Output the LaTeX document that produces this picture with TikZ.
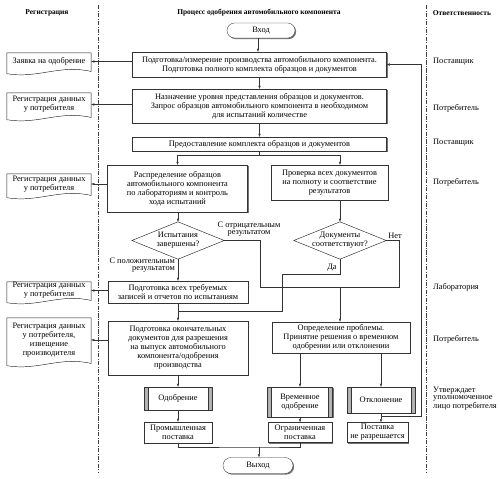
\documentclass[tikz,border=0pt]{standalone}
\usepackage{fontspec}
\setmainfont{Liberation Serif}
\usetikzlibrary{arrows.meta,shapes.misc,shadows,backgrounds}

% контур документа с волнистым низом
\newcommand\docpath[1]{(#1.north west) -- (#1.north east) -- ([yshift=-1.5pt]#1.south east)
  .. controls ([xshift=-35pt,yshift=7pt]#1.south east) and ([xshift=35pt,yshift=-10pt]#1.south west)
  .. ([yshift=-4pt]#1.south west) -- cycle}

\tikzset{
  sz/.style 2 args={minimum width=#1*0.4mm, minimum height=#2*0.4mm},
  box/.style={draw=black!80, fill=white, inner sep=0pt, align=center,
    drop shadow={shadow xshift=1.3pt, shadow yshift=-1.3pt, fill=black!55, opacity=1}},
  term/.style={box, rounded rectangle},
  bars/.style={box, path picture={
    \fill[black!30] (path picture bounding box.north west) rectangle ([xshift=4.5pt]path picture bounding box.south west);
    \fill[black!30] (path picture bounding box.north east) rectangle ([xshift=-4.5pt]path picture bounding box.south east);
    \draw[black!80] ([xshift=4.5pt]path picture bounding box.north west) -- ([xshift=4.5pt]path picture bounding box.south west);
    \draw[black!80] ([xshift=-4.5pt]path picture bounding box.north east) -- ([xshift=-4.5pt]path picture bounding box.south east);}},
  doc/.style={inner sep=0pt, align=center},
  dia/.style={inner sep=0pt, align=center},
  lbl/.style={inner sep=0pt, align=center, font=\fontsize{9.5}{8.6}\selectfont},
  head/.style={inner sep=0pt, font=\fontsize{8.5}{10}\selectfont\bfseries},
  resp/.style={inner sep=0pt, anchor=west, align=left},
  line/.style={black!80, line width=0.5pt},
  arr/.style={line, -{Triangle[length=3.5pt,width=2.4pt]}},
  col/.style={black!75, line width=0.5pt, dash pattern=on 5pt off 1.5pt on 1pt off 1.5pt},
}

\begin{document}
\begin{tikzpicture}[x=0.4mm, y=-0.4mm, font=\fontsize{9.5}{10.3}\selectfont]
  \useasboundingbox (0,0) rectangle (500,478);

  % колонки
  \draw[col] (98,5) -- (98,472);
  \draw[col] (426,5) -- (426,472);
  \node[head] (h1) at (47,13) {Регистрация};
  \node[head] (h2) at (259,13) {Процесс одобрения автомобильного компонента};
  \node[head] (h3) at (462,13) {Ответственность};

  % основной процесс
  \node[term, sz={68}{15}] (vhod) at (261,30.5) {Вход};
  \node[box, sz={254}{25}] (b1) at (259.5,64.5) {Подготовка/измерение производства автомобильного компонента.\\Подготовка полного комплекта образцов и документов};
  \node[box, sz={254}{34}] (b2) at (259.5,106) {Назначение уровня представления образцов и документов.\\Запрос образцов автомобильного компонента в необходимом\\для испытаний количестве};
  \node[box, sz={254}{14}] (b3) at (259.5,144) {Предоставление комплекта образцов и документов};
  \node[box, sz={140}{47}] (b4) at (177.5,188.5) {Распределение образцов\\автомобильного компонента\\по лабораториям и контроль\\хода испытаний};
  \node[box, sz={117}{35}] (b5) at (329.5,182.5) {Проверка всех документов\\на полноту и соответствие\\результатов};
  \node[dia, sz={92}{37}] (d1) at (178,240.5) {Испытания\\завершены?};
  \node[dia, sz={92}{37}] (d2) at (340,240.5) {Документы\\соответствуют?};
  \node[box, sz={140}{22}] (b6) at (178,292) {Подготовка всех требуемых\\записей и отчетов по испытаниям};
  \node[box, sz={140}{54}] (b7) at (178,348) {Подготовка окончательных\\документов для разрешения\\на выпуск автомобильного\\компонента/одобрения\\производства};
  \node[box, sz={138}{31}] (b8) at (341,337.5) {Определение проблемы.\\Принятие решения о временном\\одобрении или отклонении};
  \node[bars, sz={68}{23}] (odob) at (178,398.5) {Одобрение};
  \node[bars, sz={65}{30}] (vrem) at (300,402) {Временное\\одобрение};
  \node[bars, sz={68}{26}] (otkl) at (381,400) {Отклонение};
  \node[box, sz={68}{21}] (prom) at (178,432.5) {Промышленная\\поставка};
  \node[box, sz={64}{20}] (ogr) at (300,432.5) {Ограниченная\\поставка};
  \node[box, sz={61}{20}] (nerazr) at (377.5,432.5) {Поставка\\не разрешается};
  \node[term, sz={70}{16}] (vyhod) at (258,465.5) {Выход};

  % регистрация
  \node[doc, sz={84}{17}] (r1) at (49,61.5) {Заявка на одобрение};
  \node[doc, sz={84}{23}] (r2) at (49,104.5) {Регистрация данных\\у потребителя};
  \node[doc, sz={84}{20}] (r3) at (49,184) {Регистрация данных\\у потребителя};
  \node[doc, sz={84}{17}] (r4) at (49,290.5) {Регистрация данных\\у потребителя};
  \node[doc, sz={84}{44}] (r5) at (49,340) {Регистрация данных\\у потребителя,\\извещение\\производителя};

  % ответственность
  \node[resp] (o1) at (433,62) {Поставщик};
  \node[resp] (o2) at (433,108) {Потребитель};
  \node[resp] (o3) at (433,143) {Поставщик};
  \node[resp] (o4) at (433,182) {Потребитель};
  \node[resp] (o5) at (433,287) {Лаборатория};
  \node[resp] (o6) at (433,339) {Потребитель};
  \node[resp, lbl, align=left] (o7) at (433,398.5) {Утверждает\\уполномоченное\\лицо потребителя};

  % подписи ветвей
  \node[lbl, anchor=north east, align=right] (lpos) at (175,257.5) {С положительным\\результатом};
  \node[lbl] (lneg) at (249,229) {С отрицательным\\результатом};
  \node[lbl] (lda) at (332,268) {Да};
  \node[lbl] (lnet) at (395,236) {Нет};

  % фигуры документов и ромбов
  \begin{scope}[on background layer]
    \foreach \n in {r1,r2,r3,r4,r5}{
      \fill[black!55, shift={(1.3pt,-1.3pt)}] \docpath{\n};
      \draw[line, fill=white] \docpath{\n};
    }
    \foreach \n in {d1,d2}{
      \fill[black!55, shift={(1.3pt,-1.3pt)}] (\n.north) -- (\n.east) -- (\n.south) -- (\n.west) -- cycle;
      \draw[line, fill=white] (\n.north) -- (\n.east) -- (\n.south) -- (\n.west) -- cycle;
    }
  \end{scope}

  % связи
  \draw[arr] (vhod.south -| b1.north) ++(-1.5,0) coordinate (t0) -- (t0 |- b1.north);
  \draw[arr] (b1) -- (b2);
  \draw[arr] (b2) -- (b3);
  \draw[line] (b3.south) -- ++(0,4) coordinate (s3);
  \draw[arr] (s3) -| (b4.north);
  \draw[arr] (s3) -| (d2.north |- b5.north);
  \draw[arr] (b4.south -| d1.north) -- (d1.north);
  \draw[arr] (d2.north |- b5.south) -- (d2.north);
  \draw[arr] (d1) -- (b6);
  \draw[arr] (b6) -- (b7);
  \coordinate (j7) at (178,311);
  \coordinate (mrg) at (340,287);
  \draw[line] (d1.east) -- ++(36,0) |- (mrg);
  \draw[line] (d2.east) -- ++(13,0) |- (mrg);
  \draw[arr] (mrg) -- (mrg |- b8.north);
  \draw[line] (d2.south) |- (282,274) |- (j7);
  \draw[arr] (b7) -- (odob);
  \draw[arr] (odob) -- (prom);
  \draw[arr] (vrem.north |- b8.south) -- (vrem.north);
  \draw[arr] (otkl.north |- b8.south) -- (otkl.north);
  \draw[arr] (vrem) -- (ogr);
  \draw[arr] (otkl.south) -- (otkl.south |- nerazr.north);
  \coordinate (fb) at (381,416);
  \draw[arr] (fb) -- ++(40,0) |- (b1.east);
  \coordinate (m) at (259,447);
  \draw[line] (prom.south) |- (m) -| (ogr.south);
  \draw[arr] (m) -- (m |- vyhod.north);
  \draw[arr] (r1.east -| b1.west) -- (r1.east);
  \draw[arr] (r2.east -| b2.west) -- (r2.east);
  \draw[arr] (r3.east -| b4.west) -- (r3.east);
  \draw[arr] (r4.east -| b6.west) -- (r4.east);
  \draw[arr] (r5.east -| b7.west) -- (r5.east);
\end{tikzpicture}
\end{document}
